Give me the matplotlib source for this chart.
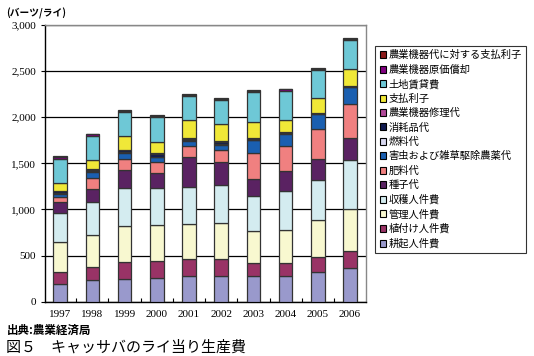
import numpy as np
import matplotlib
matplotlib.use("Agg")
import matplotlib.pyplot as plt
from matplotlib.patches import Patch

plt.rcParams['font.family'] = ['Noto Sans CJK JP', 'DejaVu Sans']

years = ['1997', '1998', '1999', '2000', '2001', '2002', '2003', '2004', '2005', '2006']

# stacked bottom -> top
plow_labor = [190, 236, 244, 261, 279, 283, 283, 283, 320, 370]
plant_labor = [131, 135, 182, 181, 181, 182, 134, 142, 162, 185]
manage_labor = [324, 356, 393, 387, 384, 388, 345, 348, 405, 454]
harvest_labor = [320, 357, 416, 402, 398, 407, 388, 432, 436, 523]
seed = [120, 141, 189, 163, 326, 254, 182, 207, 225, 243]
fertilizer = [50, 120, 127, 119, 123, 127, 283, 276, 327, 367]
pesticide = [38, 62, 60, 51, 47, 58, 138, 134, 156, 182]
fuel = [8, 8, 10, 10, 10, 10, 4, 4, 4, 4]
supplies = [18, 15, 20, 25, 20, 22, 10, 12, 12, 12]
repair = [6, 6, 6, 10, 10, 10, 4, 4, 4, 4]
interest = [87, 102, 145, 127, 192, 189, 182, 131, 154, 174]
land_rent = [255, 255, 260, 264, 257, 254, 323, 316, 310, 316]
depreciation = [20, 20, 15, 18, 15, 18, 10, 12, 10, 15]
machine_interest = [8, 5, 6, 7, 7, 7, 8, 10, 8, 10]

series = [
    ('耕起人件費', plow_labor, '#9999cc'),
    ('植付け人件費', plant_labor, '#993366'),
    ('管理人件費', manage_labor, '#f8f8d0'),
    ('収穫人件費', harvest_labor, '#d4ecf0'),
    ('種子代', seed, '#5a2262'),
    ('肥料代', fertilizer, '#f08080'),
    ('害虫および雑草駆除農薬代', pesticide, '#1a5fb0'),
    ('燃料代', fuel, '#d8d8f0'),
    ('消耗品代', supplies, '#101a50'),
    ('農業機器修理代', repair, '#b04898'),
    ('支払利子', interest, '#f0e838'),
    ('土地賃貸費', land_rent, '#6ec8d6'),
    ('農業機器原価償却', depreciation, '#800080'),
    ('農業機器代に対する支払利子', machine_interest, '#8b1a1a'),
]

fig = plt.figure(figsize=(5.34, 3.56), dpi=100)
ax = fig.add_axes([0.0843, 0.1525, 0.6002, 0.7773])

x = np.arange(len(years))
bottom = np.zeros(len(years))
for name, vals, col in series:
    ax.bar(x, vals, 0.42, bottom=bottom, color=col, edgecolor='#333333',
           linewidth=0.9, zorder=3)
    bottom += np.array(vals)

ax.set_xlim(-0.47, 9.48)
ax.set_ylim(0, 3000)
ax.set_yticks(np.arange(0, 3001, 500))
ax.set_yticklabels(['0', '500', '1,000', '1,500', '2,000', '2,500', '3,000'],
                   family='Liberation Serif', fontsize=8)
ax.set_xticks(x)
ax.set_xticklabels(years, family='Liberation Serif', fontsize=8)
ax.tick_params(axis='x', length=0, pad=6)
ax.tick_params(axis='y', length=3, direction='out', width=0.8)
ax.set_xticks(np.arange(0.5, 9.5, 1), minor=True)
ax.tick_params(axis='x', which='minor', length=3, direction='in', width=0.8)
ax.grid(axis='y', color='black', linewidth=0.9, zorder=0)
for s in ['left', 'bottom']:
    ax.spines[s].set_color('black')
    ax.spines[s].set_linewidth(1.0)
for s in ['right', 'top']:
    ax.spines[s].set_color('#888888')
    ax.spines[s].set_linewidth(1.0)

handles = [Patch(facecolor=c, edgecolor='black', linewidth=0.8, label=n)
           for n, v, c in series[::-1]]
leg = fig.legend(handles=handles, loc='upper left', bbox_to_anchor=(0.703, 0.870),
                 fontsize=7.4, frameon=True, fancybox=False, handlelength=0.65,
                 handleheight=0.65, handletextpad=0.25, labelspacing=0.42,
                 borderpad=0.4, borderaxespad=0)
leg.get_frame().set_edgecolor('black')
leg.get_frame().set_linewidth(0.8)

fig.text(0.012, 0.963, '(バーツ/ライ)', fontsize=7, fontweight='bold',
         ha='left', va='center')
fig.text(0.012, 0.072, '出典:農業経済局', fontsize=8.3, fontweight='bold',
         ha='left', va='center')
fig.text(0.012, 0.024, '図５　キャッサバのライ当り生産費', fontsize=10.8,
         ha='left', va='center')

fig.savefig('out.png', dpi=100)
